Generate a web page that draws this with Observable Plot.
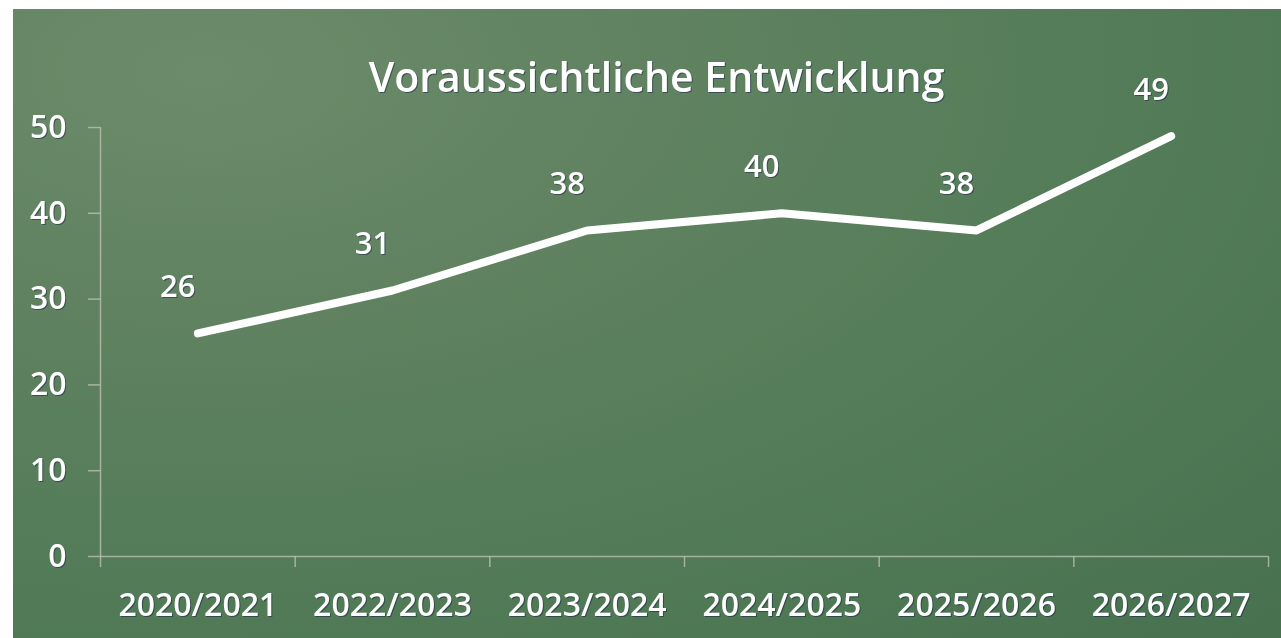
<!DOCTYPE html>
<html>
<head>
<meta charset="utf-8">
<script src="https://cdn.jsdelivr.net/npm/d3@7"></script>
<script src="https://cdn.jsdelivr.net/npm/@observablehq/plot@0.6"></script>
<style>
  html, body { margin: 0; padding: 0; background: #ffffff; }
  #chart { padding: 9px 0 0 13px; width: 1268px; height: 629px; }
  #chart svg text { filter: drop-shadow(1px 1px 0.5px rgba(10, 20, 60, 0.45)); }
</style>
</head>
<body>
<div id="chart"></div>
<script>
const title = "Voraussichtliche Entwicklung";
const categories = ["2020/2021", "2022/2023", "2023/2024", "2024/2025", "2025/2026", "2026/2027"];
const values = [26, 31, 38, 40, 38, 49];
const yTicks = [0, 10, 20, 30, 40, 50];

const data = categories.map((c, i) => ({i, c, v: values[i]}));
const n = categories.length;

const axisGray = "#b9c0b3";

const chart = Plot.plot({
  width: 1268,
  height: 629,
  marginLeft: 87,
  marginRight: 13,
  marginTop: 118,
  marginBottom: 82,
  style: {
    background: "radial-gradient(ellipse at 15% 10%, #6c8b6a 0%, #608260 30%, #547c58 60%, #47714f 100%)",
    fontFamily: "'Open Sans', sans-serif",
    color: "white",
    overflow: "visible"
  },
  x: {domain: [-0.5, n - 0.5], axis: null},
  y: {domain: [0, 50], axis: null},
  marks: [
    Plot.ruleY([0], {stroke: axisGray, strokeWidth: 1.5, strokeOpacity: 0.8}),
    Plot.ruleX([-0.5], {stroke: axisGray, strokeWidth: 1.5, strokeOpacity: 0.8}),
    Plot.axisY({ticks: yTicks, label: null, tickSize: 12, tickPadding: 22, stroke: axisGray, strokeOpacity: 0.8, strokeWidth: 1.5, fill: "white", fontSize: 32, fontWeight: 600, tickFormat: d => String(d)}),
    Plot.axisX({ticks: d3.range(-0.5, n), label: null, tickSize: 11, tickFormat: () => "", stroke: axisGray, strokeOpacity: 0.8, strokeWidth: 1.5}),
    Plot.axisX({ticks: d3.range(n), label: null, tickSize: 0, tickPadding: 37, tickFormat: i => categories[i], fill: "white", fontSize: 32, fontWeight: 600}),
    Plot.line(data, {x: "i", y: "v", stroke: "white", strokeWidth: 8, strokeLinecap: "round", strokeLinejoin: "round"}),
    Plot.text(data, {x: "i", y: "v", text: d => String(d.v), dx: -20, dy: -46, fill: "white", fontSize: 31, fontWeight: 600}),
    Plot.text([title], {frameAnchor: "top", dx: -28, dy: -65, fill: "white", fontSize: 41, fontWeight: 600})
  ]
});

document.getElementById("chart").appendChild(chart);
</script>
</body>
</html>
